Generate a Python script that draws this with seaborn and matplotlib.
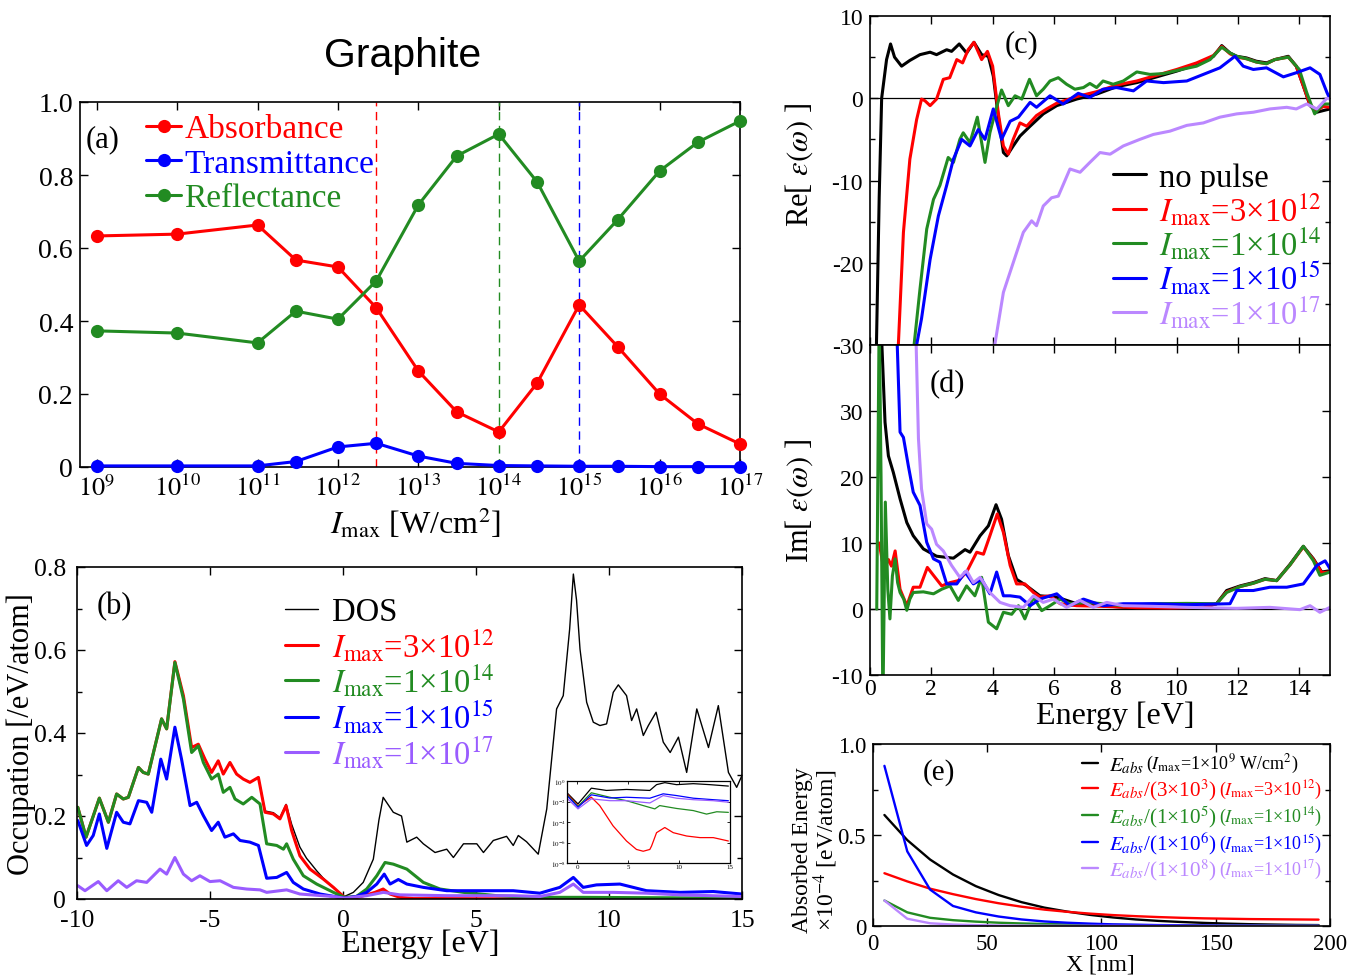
import numpy as np
import pandas as pd
import matplotlib
matplotlib.use("Agg")
import matplotlib.pyplot as plt
import seaborn as sns
from matplotlib.ticker import MultipleLocator, NullLocator, FixedLocator
from matplotlib.transforms import IdentityTransform

# ---------------- data ----------------
# (a) absorbance / transmittance / reflectance vs peak intensity
A_X = [1e9, 1e10, 1e11, 3e11, 1e12, 3e12, 1e13, 3e13, 1e14, 3e14, 1e15, 3e15, 1e16, 3e16, 1e17]
ABSORB = [0.633, 0.638, 0.663, 0.567, 0.548, 0.436, 0.263, 0.151, 0.096, 0.23, 0.444, 0.33, 0.2, 0.118, 0.063]
TRANSM = [0.003, 0.003, 0.003, 0.015, 0.055, 0.065, 0.03, 0.01, 0.004, 0.003, 0.002, 0.002, 0.001, 0.001, 0.001]
REFLECT = [0.373, 0.367, 0.34, 0.427, 0.405, 0.51, 0.718, 0.852, 0.912, 0.781, 0.564, 0.677, 0.811, 0.89, 0.948]
A_MARK = [3e12, 1e14, 1e15, 1e17]
A_XTICKS = [1e9, 1e10, 1e11, 1e12, 1e13, 1e14, 1e15, 1e16, 1e17]
A_XLABELS = [r"$10^{%d}$" % k for k in range(9, 18)]
A_YTICKS = [0, 0.2, 0.4, 0.6, 0.8, 1.0]
A_YLABELS = ["0", "0.2", "0.4", "0.6", "0.8", "1.0"]

# (b) occupation
B_RED_E = [-9.97, -9.66, -9.16, -8.82, -8.51, -8.26, -8.07, -7.69, -7.51, -7.32, -6.82, -6.63, -6.32, -6.0,
           -5.69, -5.44, -5.19, -4.94, -4.69, -4.5, -4.25, -4.0, -3.75, -3.5, -3.18, -2.93, -2.62, -2.37,
           -2.14, -1.93, -1.62, -1.24, -0.74, -0.36, 0.05, 0.5, 0.89, 1.2, 1.51, 1.77, 2.14, 2.65, 4, 6, 8,
           10, 12, 15]
B_RED_V = [0.221, 0.149, 0.243, 0.185, 0.253, 0.241, 0.245, 0.317, 0.305, 0.301, 0.434, 0.41, 0.572, 0.49,
           0.365, 0.373, 0.337, 0.305, 0.333, 0.301, 0.329, 0.301, 0.289, 0.281, 0.293, 0.209, 0.205, 0.193,
           0.225, 0.165, 0.104, 0.072, 0.048, 0.028, 0.004, 0.003, 0.01, 0.016, 0.024, 0.012, 0.004, 0.001,
           0.001, 0.0005, 0.0005, 0.0005, 0.0005, 0.0005]
B_DOS_E = [-9.97, -9.66, -9.16, -8.82, -8.51, -8.26, -8.07, -7.69, -7.51, -7.32, -6.82, -6.63, -6.32, -6.0,
           -5.69, -5.44, -5.19, -4.94, -4.69, -4.5, -4.25, -4.0, -3.75, -3.5, -3.18, -2.93, -2.62, -2.37,
           -2.14, -1.93, -1.62, -1.37, -1.24, -0.99, -0.74, -0.36, 0.05, 0.39, 0.76, 1.14, 1.35, 1.51, 1.89,
           2.2, 2.4, 2.77, 3.02, 3.46, 3.9, 4.15, 4.53, 5.03, 5.28, 5.65, 6.15, 6.4, 6.59, 6.9, 7.34, 7.66,
           8.03, 8.28, 8.52, 8.66, 8.78, 8.91, 9.16, 9.41, 9.66, 9.91, 10.16, 10.35, 10.66, 10.85, 11.04,
           11.29, 11.48, 11.77, 12.04, 12.3, 12.61, 12.92, 13.3, 13.74, 14.11, 14.49, 14.8, 15.05]
B_DOS_V = [0.221, 0.149, 0.243, 0.185, 0.253, 0.241, 0.245, 0.317, 0.305, 0.301, 0.434, 0.41, 0.572, 0.49,
           0.365, 0.373, 0.337, 0.305, 0.333, 0.301, 0.329, 0.301, 0.289, 0.281, 0.293, 0.212, 0.208, 0.196,
           0.228, 0.18, 0.125, 0.098, 0.088, 0.068, 0.05, 0.027, 0.006, 0.016, 0.04, 0.096, 0.19, 0.245, 0.209,
           0.2, 0.137, 0.149, 0.133, 0.112, 0.12, 0.1, 0.133, 0.133, 0.112, 0.141, 0.151, 0.129, 0.153, 0.138,
           0.108, 0.217, 0.458, 0.49, 0.65, 0.783, 0.72, 0.602, 0.474, 0.426, 0.418, 0.422, 0.498, 0.516, 0.49,
           0.43, 0.458, 0.394, 0.418, 0.45, 0.378, 0.353, 0.39, 0.305, 0.458, 0.365, 0.466, 0.305, 0.269,
           0.305]
B_GREEN_E = [-9.97, -9.66, -9.16, -8.82, -8.51, -8.26, -8.07, -7.69, -7.51, -7.32, -6.82, -6.63, -6.32,
             -6.0, -5.69, -5.44, -5.25, -4.94, -4.69, -4.5, -4.25, -4.06, -3.75, -3.43, -3.12, -2.87, -2.49,
             -2.24, -2.12, -1.87, -1.49, -0.99, -0.36, 0.05, 0.5, 0.89, 1.27, 1.58, 1.89, 2.4, 3.02, 3.65,
             4.53, 5.78, 7.03, 8.9, 15.0]
B_GREEN_V = [0.221, 0.149, 0.243, 0.185, 0.253, 0.241, 0.245, 0.317, 0.305, 0.301, 0.434, 0.41, 0.57,
             0.482, 0.353, 0.369, 0.329, 0.289, 0.301, 0.257, 0.269, 0.241, 0.229, 0.245, 0.229, 0.133,
             0.129, 0.12, 0.133, 0.096, 0.056, 0.036, 0.016, 0.004, 0.006, 0.024, 0.056, 0.088, 0.084, 0.072,
             0.04, 0.024, 0.016, 0.008, 0.004, 0.004, 0.002]
B_BLUE_E = [-9.97, -9.64, -9.39, -9.16, -8.88, -8.51, -8.26, -8.01, -7.69, -7.38, -7.19, -6.85, -6.63,
            -6.32, -6.07, -5.75, -5.5, -5.25, -4.94, -4.69, -4.44, -4.12, -3.87, -3.5, -3.18, -2.87, -2.49,
            -2.12, -1.87, -1.49, -0.86, 0.05, 0.5, 0.89, 1.27, 1.55, 1.77, 2.08, 2.4, 3.02, 3.9, 5.15, 6.4,
            7.4, 8.15, 8.66, 9.03, 9.53, 10.41, 11.41, 12.67, 13.92, 15.0]
B_BLUE_V = [0.189, 0.129, 0.153, 0.205, 0.122, 0.209, 0.185, 0.181, 0.237, 0.233, 0.209, 0.337, 0.289,
            0.414, 0.337, 0.225, 0.233, 0.201, 0.165, 0.185, 0.149, 0.157, 0.141, 0.137, 0.129, 0.05, 0.052,
            0.064, 0.04, 0.024, 0.012, 0.002, 0.006, 0.016, 0.036, 0.06, 0.036, 0.047, 0.036, 0.028, 0.02,
            0.02, 0.02, 0.014, 0.028, 0.052, 0.028, 0.034, 0.036, 0.02, 0.016, 0.018, 0.012]
B_PURP_E = [-9.97, -9.7, -9.2, -8.88, -8.45, -8.13, -7.76, -7.38, -6.88, -6.63, -6.32, -6.0, -5.69, -5.38,
            -5.0, -4.62, -4.12, -3.62, -3.12, -2.87, -2.12, -1.62, -0.36, 0.05, 0.89, 1.52, 2.14, 3.9, 6.4,
            7.4, 8.15, 8.66, 9.03, 10.16, 11.41, 12.67, 15.0]
B_PURP_V = [0.032, 0.02, 0.042, 0.02, 0.044, 0.028, 0.044, 0.04, 0.072, 0.06, 0.1, 0.06, 0.044, 0.056,
            0.042, 0.044, 0.028, 0.024, 0.022, 0.016, 0.022, 0.012, 0.006, 0.002, 0.008, 0.016, 0.01, 0.008,
            0.008, 0.006, 0.016, 0.036, 0.016, 0.016, 0.014, 0.01, 0.006]

# (b) inset, log scale
IN_BLACK_E = [-1, 0.08, 1.39, 2.87, 4.84, 7.13, 7.79, 8.6, 9.75, 11.4, 13.03, 14.84]
IN_BLACK_V = [7.1e-2, 5.8e-3, 0.20, 0.12, 0.15, 0.12, 0.44, 0.69, 0.44, 0.55, 0.44, 0.32]
IN_RED_E = [-1, 0.08, 1.39, 2.21, 3.52, 4.84, 5.82, 6.48, 7.13, 7.3, 7.79, 8.6, 9.43, 10.74, 12.05, 13.36, 14.84]
IN_RED_V = [5.6e-2, 4e-3, 2.6e-2, 4e-3, 4.2e-5, 1.4e-6, 2.1e-7, 1.4e-7, 2.1e-7, 4.5e-7, 9.1e-6, 2.9e-5,
            9.1e-6, 4.3e-6, 3e-6, 3e-6, 1.4e-6]
IN_GREEN_E = [-1, 0.08, 1.39, 3.2, 4.84, 6.48, 7.62, 8.1, 9.75, 11.4, 12.7, 13.7, 14.84]
IN_GREEN_V = [4.5e-2, 3.4e-3, 7.1e-2, 2.6e-2, 1.2e-2, 4e-3, 1.9e-3, 4e-3, 2.1e-3, 1.3e-3, 5.9e-4, 1e-3, 8.7e-4]
IN_BLUE_E = [-1, 0.08, 1.39, 3.2, 4.84, 7.13, 8.44, 9.75, 11.4, 13.36, 14.84]
IN_BLUE_V = [3.8e-2, 2.7e-3, 4.5e-2, 2.2e-2, 2.6e-2, 2.1e-2, 5.6e-2, 3.8e-2, 2.1e-2, 1.5e-2, 1.2e-2]
IN_PURP_E = [-1, 0.08, 1.39, 3.2, 4.84, 7.13, 8.44, 9.75, 11.4, 13.36, 14.84]
IN_PURP_V = [2.1e-2, 1.9e-3, 1.8e-2, 1.2e-2, 1.2e-2, 7.2e-3, 3.8e-2, 2.1e-2, 1.5e-2, 1.2e-2, 8.5e-3]
IN_YTICKS = [1e0, 1e-2, 1e-4, 1e-6, 1e-8]
IN_YLABELS = [r"$10^{0}$", r"$10^{-2}$", r"$10^{-4}$", r"$10^{-6}$", r"$10^{-8}$"]

# (c) Re eps
C_BLACK_E = [0.2, 0.3, 0.38, 0.54, 0.67, 0.8, 1.03, 1.3, 1.63, 1.96, 2.17, 2.5, 2.66, 2.91, 3.15, 3.39, 3.64,
             3.86, 4.02, 4.18, 4.35, 4.46, 4.67, 4.89, 5.22, 5.65, 6.09, 6.74, 7.39, 8.04, 8.7, 9.35, 10.0,
             10.65, 11.2, 11.47, 11.74, 11.96, 12.28, 12.6, 12.93, 13.2, 13.64, 13.9, 14.13, 14.35, 14.57,
             14.78, 15.0]
C_BLACK_V = [-32, -12, 0, 4.7, 6.6, 5.0, 3.9, 4.6, 5.3, 5.6, 5.3, 5.9, 5.7, 6.6, 5.5, 6.8, 5.3, 5.1, 2.7, -2.1,
             -6.6, -7.0, -5.8, -4.6, -3.4, -1.9, -0.9, -0.1, 0.5, 1.4, 1.9, 2.6, 3.3, 4.1, 5.1, 6.4, 5.5, 5.1,
             4.9, 4.5, 4.3, 4.7, 5.1, 3.9, 1.5, -0.9, -1.7, -1.5, -1.3]
C_RED_E = [0.9, 1.09, 1.3, 1.52, 1.68, 1.79, 1.96, 2.17, 2.39, 2.6, 2.83, 3.02, 3.2, 3.39, 3.64, 3.83, 4.0,
           4.18, 4.35, 4.51, 4.67, 4.89, 5.11, 5.43, 5.76, 6.09, 6.74, 7.39, 8.04, 8.7, 9.35, 10.0, 10.65, 11.2,
           11.47, 11.74, 11.96, 12.28, 12.6, 12.93, 13.2, 13.64, 13.9, 14.13, 14.35, 14.57, 14.78, 15.0]
C_RED_V = [-32, -16.3, -7.4, -2.6, -0.1, -0.3, -0.9, -0.1, 2.3, 2.5, 4.7, 4.3, 5.9, 6.8, 4.7, 5.7, 3.9, -1.7,
           -5.8, -6.8, -5.0, -3.0, -3.4, -2.1, -1.3, -0.6, 0.2, 0.8, 1.6, 2.1, 2.8, 3.5, 4.3, 5.2, 6.3, 5.4, 5.0,
           4.8, 4.4, 4.2, 4.7, 5.0, 3.9, 1.5, -0.8, -1.5, -1.0, -1.1]
C_GREEN_E = [1.38, 1.63, 1.85, 2.07, 2.28, 2.55, 2.72, 2.93, 3.04, 3.26, 3.5, 3.75, 3.91, 4.11, 4.29, 4.51,
             4.73, 4.95, 5.2, 5.43, 5.65, 5.87, 6.14, 6.41, 6.68, 6.96, 7.17, 7.39, 7.6, 7.93, 8.26, 8.7, 9.13,
             9.57, 10.16, 10.65, 11.09, 11.47, 11.74, 11.96, 12.28, 12.6, 12.93, 13.2, 13.64, 14.0, 14.24,
             14.5, 14.78, 15.0]
C_GREEN_V = [-32, -23.2, -15.9, -12.3, -10.6, -7.2, -7.8, -5.0, -4.2, -5.4, -2.3, -7.8, -4.2, -1.3, 1.0, -0.9,
             0.3, -0.1, 2.3, 0.3, 1.1, 2.1, 2.5, 1.7, 1.1, 1.3, 1.8, 1.3, 2.1, 1.7, 2.1, 3.2, 2.9, 3.0, 3.5, 3.9,
             4.7, 6.2, 5.5, 5.1, 4.8, 4.4, 4.2, 4.7, 5.0, 3.5, 0.7, -1.9, -0.7, -0.7]
C_BLUE_E = [1.42, 1.68, 1.96, 2.23, 2.5, 2.72, 2.99, 3.26, 3.53, 3.75, 4.02, 4.29, 4.57, 4.84, 5.22, 5.43,
            5.87, 6.3, 6.79, 7.17, 7.6, 8.04, 8.59, 9.02, 9.57, 10.33, 10.87, 11.41, 11.9, 12.17, 12.5, 12.93,
            13.48, 13.9, 14.35, 14.67, 14.9, 15.0]
C_BLUE_V = [-32, -26.8, -19.6, -14.3, -10.6, -7.4, -5.0, -5.8, -3.8, -5.0, -1.3, -5.0, -2.8, -2.3, -0.5, -1.1,
            0.3, -0.7, 0.6, 0.1, 1.1, 1.3, 0.9, 2.1, 1.9, 2.1, 2.9, 3.7, 5.1, 3.9, 3.5, 3.7, 2.6, 3.1, 3.7, 2.9,
            0.7, -0.1]
C_PURP_E = [3.98, 4.35, 4.67, 5.0, 5.27, 5.43, 5.65, 5.92, 6.14, 6.52, 6.85, 7.17, 7.5, 7.83, 8.26, 8.8, 9.24,
            9.78, 10.33, 10.87, 11.41, 11.96, 12.5, 13.04, 13.59, 13.9, 14.24, 14.57, 14.9, 15.0]
C_PURP_V = [-32, -23.6, -20, -16.3, -14.9, -15.5, -13.1, -12.1, -11.9, -8.6, -9.0, -7.8, -6.6, -6.8, -5.8, -5.0,
            -4.4, -4.0, -3.3, -3.0, -2.3, -1.9, -1.7, -1.3, -1.1, -1.3, -0.7, -1.3, 0.0, -0.1]

# (d) Im eps
D_BLACK_E = [0.3, 0.38, 0.49, 0.6, 0.76, 0.98, 1.2, 1.41, 1.74, 2.17, 2.72, 3.1, 3.26, 3.59, 3.86, 4.11, 4.29,
             4.51, 4.78, 5.11, 5.54, 6.09, 6.74, 7.6, 8.7, 9.78, 10.87, 11.3, 11.63, 12.07, 12.5, 12.88, 13.26,
             13.7, 14.13, 14.46, 14.73, 15.0]
D_BLACK_V = [60, 40.9, 28.3, 23.2, 20.7, 16.7, 13.1, 11.1, 9.1, 8.0, 7.7, 9.0, 8.6, 11.1, 12.6, 15.8, 13.6, 8.1,
             4.5, 3.5, 2.0, 1.8, 0.8, 0.5, 0.1, 0.1, 0.25, 0.8, 2.8, 3.5, 4.0, 4.6, 4.3, 6.8, 9.5, 7.6, 5.6, 5.8]
D_RED_E = [0.3, 0.45, 0.6, 0.7, 0.82, 0.98, 1.2, 1.41, 1.63, 1.87, 2.07, 2.34, 2.61, 2.88, 3.15, 3.48, 3.7,
           3.91, 4.15, 4.35, 4.57, 4.78, 5.05, 5.33, 5.54, 5.87, 6.2, 6.74, 7.6, 8.7, 9.78, 10.87, 11.3, 11.63,
           12.07, 12.5, 12.88, 13.26, 13.7, 14.13, 14.46, 14.73, 15.0]
D_RED_V = [10, 6, 7.5, 6.5, 8.8, 3.0, 0.5, 3.3, 3.3, 6.3, 5.1, 3.5, 4.0, 4.3, 5.6, 8.6, 8.3, 11.1, 14.4, 11.6,
           6.6, 3.8, 3.8, 2.5, 1.8, 2.0, 0.8, 0.5, 0.4, 0.2, 0.15, 0.25, 0.8, 2.6, 3.4, 3.9, 4.5, 4.3, 6.7, 9.4,
           7.5, 5.5, 5.6]
D_GREEN_E = [0.22, 0.3, 0.36, 0.42, 0.5, 0.58, 0.65, 0.73, 0.82, 0.9, 0.98, 1.1, 1.2, 1.3, 1.41, 1.74, 2.07,
             2.34, 2.61, 2.88, 3.15, 3.42, 3.64, 3.86, 4.13, 4.35, 4.62, 4.84, 5.05, 5.33, 5.6, 5.87, 6.2, 6.52,
             7.07, 7.6, 8.26, 9.24, 10.33, 11.3, 11.63, 12.07, 12.5, 12.88, 13.26, 13.7, 14.13, 14.46, 14.67,
             15.0]
D_GREEN_V = [0, 45, 20, -15, 16.2, 3, -1.5, 5, 7.6, 4, 2.5, 1.5, -0.2, 1.5, 2.5, 2.6, 2.3, 3.0, 3.5, 1.3, 3.5,
             2.0, 4.8, -2.0, -3.0, -0.5, -0.8, 0.5, -1.5, 1.8, -0.25, 0.5, 1.5, 0.8, 1.0, 0.8, 0.5, 0.8, 0.85,
             0.8, 2.5, 3.4, 3.9, 4.5, 4.3, 6.7, 9.5, 7.3, 5.1, 5.6]
D_BLUE_E = [0.75, 0.98, 1.09, 1.25, 1.41, 1.63, 1.85, 2.07, 2.28, 2.5, 2.83, 3.1, 3.37, 3.64, 3.91, 4.13, 4.35,
            4.57, 4.89, 5.22, 5.54, 6.09, 6.52, 6.96, 7.6, 8.26, 9.24, 10.33, 11.74, 11.96, 12.5, 13.04, 13.59,
            14.13, 14.57, 14.84, 15.0]
D_BLUE_V = [60, 26.8, 26.0, 21.7, 17.7, 15.7, 10.1, 7.6, 7.1, 3.8, 3.8, 5.6, 3.8, 4.5, 2.3, 5.6, 2.0, 2.0,
            1.8, 0.5, 1.5, 2.3, 0.5, 1.5, 0.5, 0.8, 0.8, 0.65, 0.8, 2.8, 2.8, 3.3, 3.3, 3.8, 6.6, 7.3, 6.1]
D_PURP_E = [1.4, 1.58, 1.68, 1.85, 2.01, 2.17, 2.39, 2.66, 2.93, 3.15, 3.37, 3.59, 3.91, 4.24, 4.57, 5.0, 5.33,
            5.65, 5.98, 6.41, 6.85, 7.28, 7.72, 8.26, 9.24, 10.33, 11.96, 13.04, 14.02, 14.35, 14.67, 15.0]
D_PURP_V = [60, 25.8, 18.2, 12.9, 12.1, 9.8, 8.8, 6.6, 4.8, 5.8, 4.0, 4.8, 2.5, 1.0, 0.5, 0.25, 2.0, 1.0, 1.5,
            0.25, 1.3, 0.25, 1.0, 0.5, 0.4, 0.25, 0.1, 0.25, -0.1, 0.5, -0.5, 0.25]

# (e) absorbed energy vs depth
E_X = [5, 15, 25, 35, 45, 55, 65, 75, 85, 95, 105, 115, 125, 135, 145, 155, 165, 175, 185, 195]
E_BLACK = [0.61, 0.472, 0.365, 0.283, 0.219, 0.170, 0.131, 0.101, 0.079, 0.061, 0.047, 0.036, 0.028, 0.022,
           0.017, 0.013, 0.010, 0.008, 0.006, 0.005]
E_RED = [0.29, 0.245, 0.205, 0.175, 0.148, 0.125, 0.106, 0.09, 0.078, 0.068, 0.06, 0.054, 0.049, 0.045, 0.042,
         0.04, 0.038, 0.037, 0.036, 0.035]
E_GREEN = [0.14, 0.075, 0.045, 0.032, 0.024, 0.018, 0.014, 0.011, 0.009, 0.007, 0.006, 0.005, 0.004, 0.0035,
           0.003, 0.0025, 0.002, 0.002, 0.0015, 0.0015]
E_BLUE = [0.88, 0.41, 0.20, 0.11, 0.075, 0.052, 0.036, 0.025, 0.018, 0.013, 0.009, 0.007, 0.005, 0.004, 0.003,
          0.002, 0.002, 0.001, 0.001, 0.001]
E_PURP = [0.14, 0.04, 0.015, 0.008, 0.005, 0.003, 0.002, 0.0015, 0.001, 0.001, 0.001, 0.0005, 0.0005, 0.0005,
          0.0005, 0.0005, 0.0005, 0.0005, 0.0005, 0.0005]

LEG_INT = [r"$I_{\rm max}$=3×10$^{12}$", r"$I_{\rm max}$=1×10$^{14}$", r"$I_{\rm max}$=1×10$^{15}$",
           r"$I_{\rm max}$=1×10$^{17}$"]
E_MAIN = [r"$E_{abs}$", r"$E_{abs}$/(3×10$^{3}$)", r"$E_{abs}$/(1×10$^{5}$)", r"$E_{abs}$/(1×10$^{6}$)",
          r"$E_{abs}$/(1×10$^{8}$)"]
E_NOTE = [r"($I_{\rm max}$=1×10$^{9}$ W/cm$^{2}$)", r"($I_{\rm max}$=3×10$^{12}$)", r"($I_{\rm max}$=1×10$^{14}$)",
          r"($I_{\rm max}$=1×10$^{15}$)", r"($I_{\rm max}$=1×10$^{17}$)"]

RED, GREEN, BLUE = "#ff0000", "#228b22", "#0000ff"
PURP_B, PURP_L = "#9a5cff", "#bb88ff"

# ---------------- style ----------------
sns.set_style("ticks")
plt.rcParams['font.family'] = ['Liberation Serif', 'DejaVu Serif']
plt.rcParams['mathtext.fontset'] = 'stix'
plt.rcParams['axes.unicode_minus'] = False
for k in ['axes.edgecolor', 'text.color', 'xtick.color', 'ytick.color', 'axes.labelcolor']:
    plt.rcParams[k] = 'black'
plt.rcParams['axes.linewidth'] = 1.2

fig = plt.figure(figsize=(13.65, 9.78), dpi=100)
W, H = 1365.0, 978.0


def add_axes(l, t, r, b):
    return fig.add_axes([l / W, 1 - b / H, (r - l) / W, (b - t) / H])


def style(ax, size, major=6, minor=3.5):
    ax.tick_params(which='both', direction='in', top=True, right=True, width=1.0, labelsize=size, pad=5)
    ax.tick_params(which='major', length=major)
    ax.tick_params(which='minor', length=minor)


def line(ax, x, y, color, lw, label=None, **kw):
    sns.lineplot(x=x, y=y, ax=ax, color=color, linewidth=lw, label=label, estimator=None, sort=False, **kw)


axA = add_axes(80, 103, 740, 468)
axB = add_axes(77, 568, 742, 900)
axC = add_axes(870, 17, 1330, 346)
axD = add_axes(870, 346, 1330, 676)
axE = add_axes(873, 745, 1330, 927)
axI = add_axes(567, 782, 730, 864)

# ---- (a)
axA.set_xscale('log')
for xv, c in zip(A_MARK, [RED, GREEN, BLUE, PURP_L]):
    axA.axvline(xv, color=c, lw=1.0, ls=(0, (6, 4)), zorder=1)
for ys, c, lab in [(ABSORB, RED, "Absorbance"), (TRANSM, BLUE, "Transmittance"), (REFLECT, GREEN, "Reflectance")]:
    line(axA, A_X, ys, c, 2.2, label=lab, marker='o', markersize=9.5, markeredgewidth=0, markeredgecolor=c,
         clip_on=False, zorder=3)
axA.set_xlim(6.2e8, 1e17)
axA.set_ylim(0, 1.0)
axA.xaxis.set_major_locator(FixedLocator(A_XTICKS))
axA.set_xticklabels(A_XLABELS)
axA.xaxis.set_minor_locator(NullLocator())
axA.set_yticks(A_YTICKS, A_YLABELS)
style(axA, 19)
axA.tick_params(axis='y', labelsize=20)
axA.set_xlabel(r"$I_{\rm max}$ [W/cm$^{2}$]", fontsize=23)
axA.xaxis.set_label_coords(0.508, -0.105)
axA.legend(loc='upper left', bbox_to_anchor=(0.1, 0.968), frameon=False, fontsize=24, handlelength=1.05,
           handletextpad=0.1, labelspacing=0.12, borderpad=0, borderaxespad=0, labelcolor='linecolor')
axA.text(0.008, 0.9, "(a)", transform=axA.transAxes, fontsize=22, va='center', ha='left')
fig.text(403 / W, 1 - 56 / H, "Graphite", ha='center', va='center', fontsize=29.5, family='Liberation Sans')

# ---- (b)
line(axB, B_DOS_E, B_DOS_V, 'black', 1.0, label="DOS")
line(axB, B_RED_E, B_RED_V, RED, 2.2, label=LEG_INT[0])
line(axB, B_GREEN_E, B_GREEN_V, GREEN, 2.2, label=LEG_INT[1])
line(axB, B_BLUE_E, B_BLUE_V, BLUE, 2.2, label=LEG_INT[2])
line(axB, B_PURP_E, B_PURP_V, PURP_B, 2.2, label=LEG_INT[3])
axB.set_xlim(-10, 15)
axB.set_ylim(0, 0.8)
axB.set_xticks([-10, -5, 0, 5, 10, 15], ["-10", "-5", "0", "5", "10", "15"])
axB.set_yticks([0, 0.2, 0.4, 0.6, 0.8], ["0", "0.2", "0.4", "0.6", "0.8"])
axB.yaxis.set_minor_locator(MultipleLocator(0.1))
style(axB, 18.5)
axB.tick_params(axis='y', pad=8)
axB.tick_params(axis='x', pad=7)
axB.set_xlabel("Energy [eV]", fontsize=23)
axB.xaxis.set_label_coords(0.516, -0.09)
axB.set_ylabel("Occupation [/eV/atom]", fontsize=22)
axB.yaxis.set_label_coords(-0.062, 0.5)
axB.legend(loc='upper left', bbox_to_anchor=(0.313, 0.91), frameon=False, fontsize=23.5, handlelength=1.0,
           handletextpad=0.45, labelspacing=-0.03, borderpad=0, borderaxespad=0, labelcolor='linecolor')
axB.text(0.03, 0.885, "(b)", transform=axB.transAxes, fontsize=22, va='center', ha='left')

# inset
axI.set_yscale('log')
for xs, ys, c in [(IN_BLACK_E, IN_BLACK_V, 'black'), (IN_RED_E, IN_RED_V, RED), (IN_GREEN_E, IN_GREEN_V, GREEN),
                  (IN_BLUE_E, IN_BLUE_V, BLUE), (IN_PURP_E, IN_PURP_V, PURP_B)]:
    line(axI, xs, ys, c, 0.9)
axI.set_xlim(-1, 15)
axI.set_ylim(1e-8, 1)
axI.set_yticks(IN_YTICKS, IN_YLABELS)
axI.yaxis.set_minor_locator(NullLocator())
axI.set_xticks([0, 5, 10, 15], ["0", "5", "10", "15"])
axI.tick_params(which='both', direction='in', top=True, right=True, labelsize=5, length=2, pad=1, width=0.6)
for s in axI.spines.values():
    s.set_linewidth(0.9)

# ---- (c)
axC.axhline(0, color='black', lw=0.9, zorder=1)
line(axC, C_BLACK_E, C_BLACK_V, 'black', 2.2, label="no pulse")
line(axC, C_RED_E, C_RED_V, RED, 2.2, label=LEG_INT[0])
line(axC, C_GREEN_E, C_GREEN_V, GREEN, 2.2, label=LEG_INT[1])
line(axC, C_BLUE_E, C_BLUE_V, BLUE, 2.2, label=LEG_INT[2])
line(axC, C_PURP_E, C_PURP_V, PURP_L, 2.2, label=LEG_INT[3])
axC.set_xlim(0, 15)
axC.set_ylim(-30, 10)
axC.set_xticks([0, 2, 4, 6, 8, 10, 12, 14])
axC.set_yticks([-30, -20, -10, 0, 10], ["-30", "-20", "-10", "0", "10"])
axC.yaxis.set_minor_locator(MultipleLocator(5))
style(axC, 17)
axC.tick_params(labelbottom=False)
axC.set_ylabel(r"Re[ $\varepsilon(\omega)$ ]", fontsize=22)
axC.yaxis.set_label_coords(-0.12, 0.55)
axC.legend(loc='upper left', bbox_to_anchor=(0.528, 0.555), frameon=False, fontsize=23.5, handlelength=1.0,
           handletextpad=0.4, labelspacing=-0.075, borderpad=0, borderaxespad=0, labelcolor='linecolor')
axC.text(0.293, 0.915, "(c)", transform=axC.transAxes, fontsize=22, va='center', ha='left')

# ---- (d)
axD.axhline(0, color='black', lw=0.9, zorder=1)
line(axD, D_BLACK_E, D_BLACK_V, 'black', 2.2)
line(axD, D_RED_E, D_RED_V, RED, 2.2)
line(axD, D_GREEN_E, D_GREEN_V, GREEN, 2.2)
line(axD, D_BLUE_E, D_BLUE_V, BLUE, 2.2)
line(axD, D_PURP_E, D_PURP_V, PURP_L, 2.2)
axD.set_xlim(0, 15)
axD.set_ylim(-10, 40)
axD.set_xticks([0, 2, 4, 6, 8, 10, 12, 14], ["0", "2", "4", "6", "8", "10", "12", "14"])
axD.set_yticks([-10, 0, 10, 20, 30], ["-10", "0", "10", "20", "30"])
style(axD, 17)
axD.tick_params(axis='x', pad=2)
axD.set_xlabel("Energy [eV]", fontsize=23)
axD.xaxis.set_label_coords(0.533, -0.078)
axD.set_ylabel(r"Im[ $\varepsilon(\omega)$ ]", fontsize=22)
axD.yaxis.set_label_coords(-0.12, 0.53)
axD.text(0.13, 0.882, "(d)", transform=axD.transAxes, fontsize=22, va='center', ha='left')

# ---- (e)
cols_e = ['black', RED, GREEN, BLUE, PURP_L]
for ys, c, lab in zip([E_BLACK, E_RED, E_GREEN, E_BLUE, E_PURP], cols_e, E_MAIN):
    line(axE, E_X, ys, c, 1.7, label=lab)
axE.set_xlim(0, 200)
axE.set_ylim(0, 1.0)
axE.set_xticks([0, 50, 100, 150, 200], ["0", "50", "100", "150", "200"])
axE.set_yticks([0, 0.5, 1.0], ["0", "0.5", "1.0"])
axE.yaxis.set_minor_locator(MultipleLocator(0.25))
style(axE, 16.5)
axE.set_xlabel("X [nm]", fontsize=17)
axE.xaxis.set_label_coords(0.497, -0.15)
axE.set_ylabel("Absorbed Energy\n×10$^{-4}$ [eV/atom]", fontsize=17, linespacing=0.95)
axE.yaxis.set_label_coords(-0.072, 0.42)
legE = axE.legend(loc='upper left', bbox_to_anchor=(0.457, 0.934), frameon=False, fontsize=15.2,
                  handlelength=0.75, handletextpad=0.55, labelspacing=0.04, borderpad=0, borderaxespad=0,
                  labelcolor='linecolor')
axE.text(0.109, 0.846, "(e)", transform=axE.transAxes, fontsize=21, va='center', ha='left')

fig.canvas.draw()
rend = fig.canvas.get_renderer()
for t, note, c in zip(legE.get_texts(), E_NOTE, cols_e):
    bb = t.get_window_extent(rend)
    fig.text(bb.x1 + 2, bb.y0 + 1, note, color=c, fontsize=13, transform=IdentityTransform(),
             ha='left', va='bottom')

fig.savefig("out.png", dpi=100)
